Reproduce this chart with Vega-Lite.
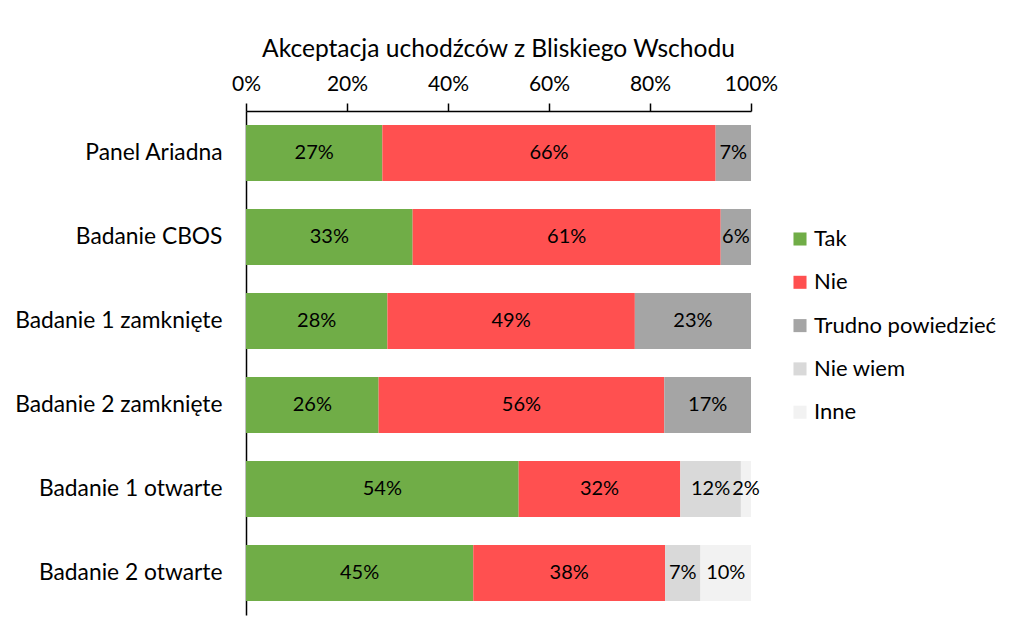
{
  "$schema": "https://vega.github.io/schema/vega-lite/v6.json",
  "width": 505,
  "height": 504,
  "autosize": "none",
  "padding": {"left": 246, "top": 111, "right": 273, "bottom": 28},
  "background": "white",
  "config": {
    "font": "Lato",
    "view": {"stroke": null},
    "title": {"font": "Lato", "fontSize": 24.6, "fontWeight": "normal", "color": "black", "anchor": "middle", "offset": 10}
  },
  "title": "Akceptacja uchodźców z Bliskiego Wschodu",
  "data": {
    "values": [
      {"badanie": "Panel Ariadna", "odp": "Tak", "k": 1, "v": 0.27},
      {"badanie": "Panel Ariadna", "odp": "Nie", "k": 2, "v": 0.66},
      {"badanie": "Panel Ariadna", "odp": "Trudno powiedzieć", "k": 3, "v": 0.07},
      {"badanie": "Badanie CBOS", "odp": "Tak", "k": 1, "v": 0.33},
      {"badanie": "Badanie CBOS", "odp": "Nie", "k": 2, "v": 0.61},
      {"badanie": "Badanie CBOS", "odp": "Trudno powiedzieć", "k": 3, "v": 0.06},
      {"badanie": "Badanie 1 zamknięte", "odp": "Tak", "k": 1, "v": 0.28},
      {"badanie": "Badanie 1 zamknięte", "odp": "Nie", "k": 2, "v": 0.49},
      {"badanie": "Badanie 1 zamknięte", "odp": "Trudno powiedzieć", "k": 3, "v": 0.23},
      {"badanie": "Badanie 2 zamknięte", "odp": "Tak", "k": 1, "v": 0.26},
      {"badanie": "Badanie 2 zamknięte", "odp": "Nie", "k": 2, "v": 0.56},
      {"badanie": "Badanie 2 zamknięte", "odp": "Trudno powiedzieć", "k": 3, "v": 0.17},
      {"badanie": "Badanie 1 otwarte", "odp": "Tak", "k": 1, "v": 0.54},
      {"badanie": "Badanie 1 otwarte", "odp": "Nie", "k": 2, "v": 0.32},
      {"badanie": "Badanie 1 otwarte", "odp": "Nie wiem", "k": 4, "v": 0.12},
      {"badanie": "Badanie 1 otwarte", "odp": "Inne", "k": 5, "v": 0.02},
      {"badanie": "Badanie 2 otwarte", "odp": "Tak", "k": 1, "v": 0.45},
      {"badanie": "Badanie 2 otwarte", "odp": "Nie", "k": 2, "v": 0.38},
      {"badanie": "Badanie 2 otwarte", "odp": "Nie wiem", "k": 4, "v": 0.07},
      {"badanie": "Badanie 2 otwarte", "odp": "Inne", "k": 5, "v": 0.10}
    ]
  },
  "encoding": {
    "y": {
      "field": "badanie", "type": "nominal", "sort": null, "title": null,
      "scale": {"paddingInner": 0.333, "paddingOuter": 0.167},
      "axis": {"domainColor": "black", "domainWidth": 1.5, "ticks": false, "labelFontSize": 22.8, "labelColor": "black", "labelPadding": 24, "labelFont": "Lato", "labelLimit": 400}
    },
    "order": {"field": "k", "type": "quantitative"}
  },
  "layer": [
    {
      "mark": {"type": "bar"},
      "encoding": {
        "x": {
          "field": "v", "type": "quantitative", "stack": "normalize", "title": null,
          "scale": {"domain": [0, 1], "nice": false},
          "axis": {"orient": "top", "format": ".0%", "values": [0, 0.2, 0.4, 0.6, 0.8, 1], "grid": false, "labelFlush": false, "domainColor": "black", "domainWidth": 1.5, "tickColor": "black", "tickWidth": 1.5, "tickSize": 8, "labelFontSize": 21, "labelColor": "black", "labelPadding": 9, "labelFont": "Lato"}
        },
        "color": {
          "field": "odp", "type": "nominal", "title": null,
          "scale": {"domain": ["Tak", "Nie", "Trudno powiedzieć", "Nie wiem", "Inne"], "range": ["#70AD47", "#FF5050", "#A5A5A5", "#D9D9D9", "#F2F2F2"]},
          "legend": {"orient": "none", "legendX": 543, "legendY": 117, "symbolType": "square", "symbolSize": 170, "symbolStrokeWidth": 0, "labelFontSize": 22, "labelColor": "black", "labelFont": "Lato", "labelLimit": 400, "rowPadding": 21.3, "labelOffset": 3}
        }
      }
    },
    {
      "mark": {"type": "text", "fontSize": 20, "color": "black", "font": "Lato"},
      "encoding": {
        "x": {"field": "v", "type": "quantitative", "stack": "normalize", "bandPosition": 0.5},
        "text": {"field": "v", "type": "quantitative", "format": ".0%"}
      }
    }
  ]
}
